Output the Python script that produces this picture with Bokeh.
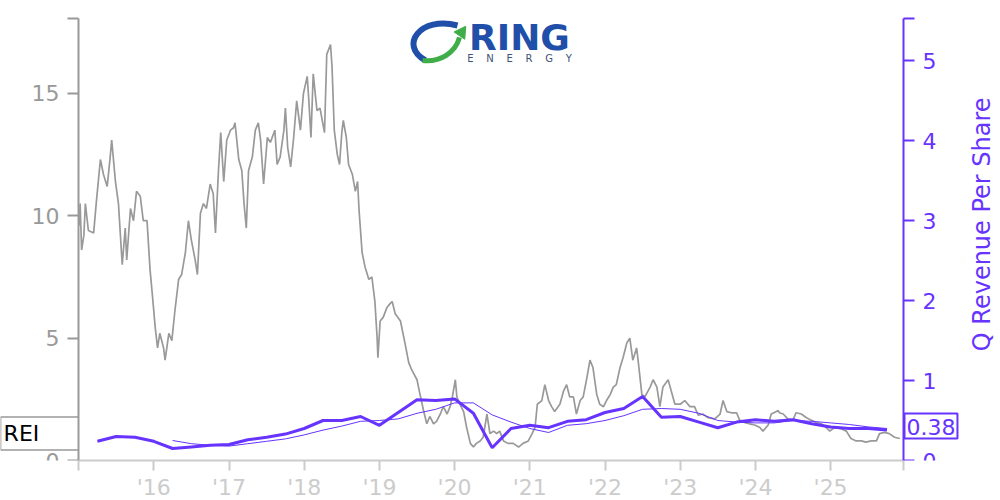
import math
from bokeh.plotting import figure
from bokeh.models import Range1d, LinearAxis, FixedTicker, Label
from bokeh.embed import file_html
from bokeh.resources import INLINE

# ---------------- data ----------------
price_years = [
    2015.01, 2015.02, 2015.04, 2015.07, 2015.09, 2015.13, 2015.20, 2015.24, 2015.29, 2015.33,
    2015.38, 2015.42, 2015.44, 2015.49, 2015.53, 2015.58, 2015.62, 2015.64, 2015.69, 2015.73,
    2015.77, 2015.82, 2015.86, 2015.91, 2015.95, 2015.98, 2016.02, 2016.05, 2016.08, 2016.13,
    2016.15, 2016.20, 2016.24, 2016.28, 2016.33, 2016.37, 2016.42, 2016.46, 2016.50, 2016.55,
    2016.58, 2016.62, 2016.66, 2016.70, 2016.75, 2016.79, 2016.82, 2016.86, 2016.89, 2016.93,
    2016.97, 2017.02, 2017.06, 2017.08, 2017.13, 2017.17, 2017.20, 2017.23, 2017.26, 2017.31,
    2017.35, 2017.39, 2017.42, 2017.46, 2017.51, 2017.55, 2017.61, 2017.64, 2017.68, 2017.73,
    2017.75, 2017.78, 2017.82, 2017.86, 2017.90, 2017.95, 2017.99, 2018.04, 2018.06, 2018.09,
    2018.12, 2018.17, 2018.21, 2018.24, 2018.27, 2018.30, 2018.35, 2018.37, 2018.40, 2018.44,
    2018.47, 2018.50, 2018.52, 2018.56, 2018.59, 2018.64, 2018.68, 2018.71, 2018.73, 2018.77,
    2018.81, 2018.86, 2018.90, 2018.94, 2018.97, 2018.98, 2019.01, 2019.05, 2019.10, 2019.14,
    2019.17, 2019.21, 2019.28, 2019.34, 2019.39, 2019.43, 2019.50, 2019.54, 2019.59, 2019.63,
    2019.67, 2019.72, 2019.76, 2019.81, 2019.85, 2019.90, 2019.94, 2019.97, 2020.01, 2020.03,
    2020.07, 2020.12, 2020.16, 2020.21, 2020.25, 2020.29, 2020.34, 2020.38, 2020.43, 2020.47,
    2020.52, 2020.56, 2020.60, 2020.65, 2020.71, 2020.78, 2020.85, 2020.91, 2020.98, 2021.03,
    2021.07, 2021.10, 2021.16, 2021.20, 2021.25, 2021.29, 2021.33, 2021.40, 2021.45, 2021.49,
    2021.53, 2021.58, 2021.62, 2021.67, 2021.71, 2021.76, 2021.80, 2021.84, 2021.89, 2021.93,
    2021.98, 2022.02, 2022.07, 2022.11, 2022.15, 2022.20, 2022.24, 2022.29, 2022.33, 2022.37,
    2022.42, 2022.44, 2022.49, 2022.53, 2022.60, 2022.64, 2022.69, 2022.73, 2022.77, 2022.84,
    2022.88, 2022.93, 2023.00, 2023.06, 2023.13, 2023.19, 2023.24, 2023.30, 2023.37, 2023.46,
    2023.53, 2023.57, 2023.62, 2023.68, 2023.75, 2023.79, 2023.86, 2023.92, 2023.99, 2024.06,
    2024.10, 2024.17, 2024.21, 2024.28, 2024.30, 2024.32, 2024.37, 2024.43, 2024.50, 2024.54,
    2024.61, 2024.68, 2024.74, 2024.81, 2024.88, 2024.94, 2024.99, 2025.05, 2025.14, 2025.21,
    2025.27, 2025.34, 2025.41, 2025.47, 2025.54, 2025.61, 2025.65, 2025.72, 2025.78, 2025.85,
    2025.92,
]
price_values = [
    9.6, 10.5, 8.6, 9.2, 10.5, 9.4, 9.3, 10.7, 12.3, 11.7,
    11.2, 12.4, 13.1, 11.4, 10.5, 8.0, 9.5, 8.2, 10.3, 9.8,
    11.0, 10.8, 9.8, 9.8, 7.8, 6.8, 5.4, 4.6, 5.2, 4.6,
    4.1, 5.2, 4.9, 6.1, 7.4, 7.6, 8.5, 9.8, 9.0, 8.2,
    7.6, 10.1, 10.5, 10.3, 11.3, 10.9, 9.3, 11.85, 13.4, 11.4,
    13.1, 13.5, 13.6, 13.8, 12.3, 11.85, 10.5, 9.5, 11.85, 12.4,
    13.5, 13.8, 13.1, 11.3, 13.2, 13.0, 13.5, 12.1, 12.4, 13.5,
    14.4, 12.8, 12.0, 13.2, 14.7, 13.5, 15.0, 15.7, 14.8, 13.2,
    15.8, 14.3, 14.4, 13.9, 13.4, 16.6, 17.0, 16.1, 13.5, 12.5,
    12.1, 13.4, 13.9, 13.2, 12.1, 11.7, 11.0, 11.4, 10.2, 8.5,
    7.9, 7.4, 7.5, 6.5, 5.0, 4.2, 5.7, 5.85, 6.25, 6.4,
    6.5, 6.0, 5.7, 4.8, 4.0, 3.7, 3.3, 2.7, 2.0, 1.5,
    1.8, 1.5, 1.6, 1.9, 2.2, 1.9, 2.2, 2.6, 3.3, 2.6,
    2.3, 2.0, 1.35, 0.7, 0.55, 0.7, 0.8, 0.95, 1.9, 1.1,
    1.2, 1.1, 1.2, 0.8, 0.7, 0.7, 0.55, 0.7, 0.8, 1.1,
    1.35, 2.3, 2.45, 3.1, 2.45, 2.2, 2.0, 2.3, 2.85, 3.1,
    2.6, 2.6, 1.9, 2.45, 2.6, 3.4, 4.1, 3.8, 2.7, 2.3,
    2.2, 2.45, 2.7, 3.0, 3.1, 3.8, 4.2, 4.8, 5.0, 4.1,
    4.6, 4.1, 2.7, 2.6, 3.0, 3.3, 3.0, 2.2, 3.0, 3.3,
    2.85, 2.3, 2.3, 2.45, 2.2, 2.2, 1.85, 1.9, 1.75, 1.7,
    1.9, 2.45, 2.0, 1.95, 1.95, 1.65, 1.55, 1.5, 1.45, 1.35,
    1.2, 1.45, 1.9, 2.0, 2.05, 1.95, 1.9, 1.7, 1.65, 1.95,
    1.9, 1.75, 1.65, 1.55, 1.5, 1.35, 1.2, 1.35, 1.3, 1.2,
    0.9, 0.8, 0.8, 0.75, 0.8, 0.8, 1.1, 1.15, 1.1, 0.95,
    0.9,
]

rev_quarters = [
    2015.25, 2015.50, 2015.75, 2016.00, 2016.25, 2016.50, 2016.75, 2017.00,
    2017.25, 2017.50, 2017.75, 2018.00, 2018.25, 2018.50, 2018.75, 2019.00,
    2019.25, 2019.50, 2019.75, 2020.00, 2020.25, 2020.50, 2020.75, 2021.00,
    2021.25, 2021.50, 2021.75, 2022.00, 2022.25, 2022.50, 2022.75, 2023.00,
    2023.25, 2023.50, 2023.75, 2024.00, 2024.25, 2024.50, 2024.75, 2025.00,
    2025.25, 2025.50, 2025.75,
]
rev_values = [
    0.24, 0.30, 0.29, 0.24, 0.15, 0.17, 0.19, 0.20,
    0.26, 0.29, 0.33, 0.40, 0.50, 0.50, 0.55, 0.44,
    0.60, 0.76, 0.75, 0.77, 0.59, 0.16, 0.40, 0.44,
    0.41, 0.49, 0.51, 0.60, 0.65, 0.80, 0.54, 0.55,
    0.48, 0.41, 0.48, 0.51, 0.49, 0.51, 0.46, 0.42,
    0.40, 0.40, 0.38,
]
# thin line: trailing-year average of quarterly revenue per share
rev_avg_quarters = [
    2016.25, 2016.50, 2016.75, 2017.00, 2017.25, 2017.50, 2017.75, 2018.00,
    2018.25, 2018.50, 2018.75, 2019.00, 2019.25, 2019.50, 2019.75, 2020.00,
    2020.25, 2020.50, 2020.75, 2021.00, 2021.25, 2021.50, 2021.75, 2022.00,
    2022.25, 2022.50, 2022.75, 2023.00, 2023.25, 2023.50, 2023.75, 2024.00,
    2024.25, 2024.50, 2024.75, 2025.00, 2025.25, 2025.50, 2025.75,
]
rev_avg_values = [
    0.25, 0.21, 0.19, 0.18, 0.21, 0.24, 0.27, 0.32,
    0.38, 0.43, 0.49, 0.50, 0.52, 0.59, 0.64, 0.72,
    0.72, 0.57, 0.48, 0.40, 0.35, 0.44, 0.46, 0.50,
    0.56, 0.64, 0.65, 0.64, 0.59, 0.50, 0.48, 0.47,
    0.47, 0.50, 0.49, 0.47, 0.45, 0.42, 0.40,
]

year_ticks = [2016, 2017, 2018, 2019, 2020, 2021, 2022, 2023, 2024, 2025]
year_labels = ["'16", "'17", "'18", "'19", "'20", "'21", "'22", "'23", "'24", "'25"]
price_ticks = [0, 5, 10, 15]
rev_ticks = [0, 1, 2, 3, 4, 5]

ticker_symbol = "REI"
company_word = "RING"
company_sub = "\u00a0\u00a0\u00a0\u00a0".join("ENERGY")
right_axis_title = "Q Revenue Per Share"

# axis extents (data span of the drawn axes)
X_START, X_END = 2015.0, 2025.969
PRICE_TOP = 18.06
REV_TOP = 5.525
# visible window (frame spans the whole canvas; axes are pinned at X_START / X_END)
VIEW_X0, VIEW_X1 = 2013.9614, 2027.2593
VIEW_PRICE_TOP = 18.80
VIEW_REV_TOP = 5.75

# ---------------- styles ----------------
FONT = "DejaVu Sans"
PURPLE = "#6633ff"
GREY = "#999999"
LIGHT = "#cccccc"

p = figure(
    frame_width=1000, frame_height=460,
    x_range=Range1d(VIEW_X0, VIEW_X1), y_range=Range1d(0, VIEW_PRICE_TOP),
    output_backend="svg", toolbar_location=None,
    min_border_left=0, min_border_right=0, min_border_top=0, min_border_bottom=40,
    background_fill_color="white", border_fill_color="white",
)
p.outline_line_color = None
p.grid.visible = False

# x axis
xa = p.xaxis[0]
xa.bounds = (X_START, X_END)
xa.ticker = FixedTicker(ticks=[X_START] + year_ticks + [X_END])
overrides = {X_START: "", X_END: ""}
overrides.update({t: l for t, l in zip(year_ticks, year_labels)})
xa.major_label_overrides = overrides
xa.axis_line_color = LIGHT
xa.axis_line_width = 2
xa.major_tick_line_color = LIGHT
xa.major_tick_line_width = 2
xa.major_tick_out = 10
xa.major_tick_in = 0
xa.minor_tick_line_color = None
xa.major_label_text_color = LIGHT
xa.major_label_text_font = FONT
xa.major_label_text_font_size = "22px"
xa.major_label_standoff = 4

# left axis (price)
ya = p.yaxis[0]
ya.fixed_location = X_START
ya.bounds = (0, PRICE_TOP)
ya.ticker = FixedTicker(ticks=price_ticks + [PRICE_TOP])
ya.major_label_overrides = {PRICE_TOP: ""}
ya.axis_line_color = GREY
ya.axis_line_width = 2
ya.major_tick_line_color = GREY
ya.major_tick_line_width = 2
ya.major_tick_out = 11
ya.major_tick_in = 0
ya.minor_tick_line_color = None
ya.major_label_text_color = GREY
ya.major_label_text_font = FONT
ya.major_label_text_font_size = "22px"
ya.major_label_standoff = 8

# right axis (revenue per share)
p.extra_y_ranges = {"rev": Range1d(0, VIEW_REV_TOP)}
ra = LinearAxis(y_range_name="rev", ticker=FixedTicker(ticks=rev_ticks + [REV_TOP]))
ra.major_label_overrides = {REV_TOP: ""}
ra.fixed_location = X_END
ra.bounds = (0, REV_TOP)
ra.axis_line_color = PURPLE
ra.axis_line_width = 2
ra.major_tick_line_color = PURPLE
ra.major_tick_line_width = 2
ra.major_tick_out = 11
ra.major_tick_in = 0
ra.minor_tick_line_color = None
ra.major_label_text_color = PURPLE
ra.major_label_text_font = FONT
ra.major_label_text_font_size = "22px"
ra.major_label_standoff = 8
p.add_layout(ra, "right")

# right axis title (reads bottom-to-top)
p.add_layout(Label(
    x=X_END, y=REV_TOP / 2 + 0.19, y_range_name="rev", text=right_axis_title,
    angle=math.pi / 2, x_offset=79, text_align="center", text_baseline="middle",
    text_color=PURPLE, text_font=FONT, text_font_size="24px",
))

# series
p.line(price_years, price_values, line_color=GREY, line_width=1.7)
p.line(rev_avg_quarters, rev_avg_values, y_range_name="rev", line_color=PURPLE, line_width=1)
p.line(rev_quarters, rev_values, y_range_name="rev", line_color=PURPLE, line_width=3)

# last value badge
p.add_layout(Label(
    x=X_END, y=rev_values[-1], y_range_name="rev", text=f"{rev_values[-1]:.2f}",
    x_offset=1, y_offset=4, text_baseline="middle", text_align="left",
    text_color=PURPLE, text_font=FONT, text_font_size="22px",
    border_line_color=PURPLE, border_line_width=2, background_fill_color="white",
    padding=dict(left=2, right=2, top=5, bottom=4),
))

# ticker badge
p.add_layout(Label(
    x=X_START, y=price_values[-1], text=ticker_symbol,
    x_offset=-78, y_offset=5, text_baseline="middle", text_align="left",
    text_color="black", text_font=FONT, text_font_size="22px",
    border_line_color="#999999", border_line_width=1.5, background_fill_color="white",
    padding=dict(left=3, right=39, top=4, bottom=4),
))

# logo (decoration)
p.bezier(x0=[2020.0385], y0=[17.779], x1=[2019.613], y1=[16.348],
         cx0=[2019.5465], cy0=[18.188], cx1=[2019.254], cy1=[16.962],
         line_color="#1f4fa8", line_width=6)
p.bezier(x0=[2019.573], y0=[16.348], x1=[2020.0651], y1=[17.289],
         cx0=[2019.8125], cy0=[16.267], cx1=[2020.012], cy1=[16.676],
         line_color="#3fae49", line_width=5)
p.scatter(x=[2020.0917], y=[17.493], marker="triangle", size=13, angle=-0.6,
          fill_color="#3fae49", line_color="#3fae49")
p.add_layout(Label(x=2020.863, y=17.289, text=company_word, text_align="center",
                   text_baseline="middle", text_color="#1f4fa8", text_font=FONT,
                   text_font_size="36px", text_font_style="bold"))
p.add_layout(Label(x=2020.863, y=16.43, text=company_sub, text_align="center",
                   text_baseline="middle", text_color="#3d5278", text_font=FONT,
                   text_font_size="10px"))

open("out.html", "w").write(file_html(p, INLINE))
